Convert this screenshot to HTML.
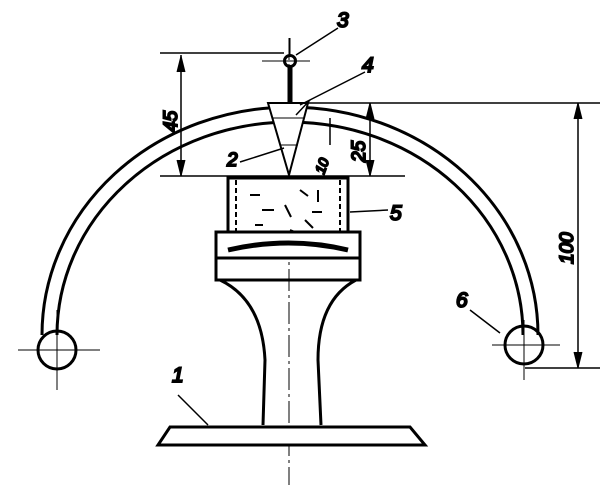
<!DOCTYPE html>
<html><head><style>body{margin:0;background:#fff}svg{display:block}text{font-family:"Liberation Sans",sans-serif;font-style:italic;fill:#000}</style></head>
<body><svg width="615" height="501" viewBox="0 0 615 501" stroke="#000" fill="none" stroke-width="2">
<path d="M42 335 A248 228 0 0 1 538 335" stroke-width="3"/>
<path d="M57 335 A233 213 0 0 1 523 335" stroke-width="3"/>
<circle cx="57" cy="350" r="19" stroke-width="3"/>
<circle cx="524" cy="345" r="19" stroke-width="3"/>
<path d="M18 350H100M57 310V390M492 345H560M524 320V380" stroke-width="1"/>
<path d="M289 38V485" stroke-width="1" stroke-dasharray="22 4 3 4"/>
<circle cx="290" cy="61" r="5.5" stroke-width="3"/>
<path d="M290 67V103" stroke-width="5"/>
<path d="M262 61H310M290 38V55" stroke-width="1"/>
<path d="M268 103H308L289 175Z" fill="#fff"/>
<path d="M273 118H304M280 145H298" stroke-width="1"/>
<path d="M160 53H284M160 176H405M300 103H600M525 368H600" stroke-width="1.5"/>
<path d="M181 55V176M370 103V176M578 103V368M330 118V145" stroke-width="1.5"/>
<path d="M177 72L181 56L185 72M177 160L181 176L185 160M366 119L370 103L374 119M366 160L370 176L374 160M574 119L578 103L582 119M574 352L578 368L582 352" fill="#000" stroke-width="1"/>
<rect x="228" y="178" width="120" height="80" fill="#fff" stroke-width="3"/>
<path d="M236 180V256M340 180V256" stroke-width="2" stroke-dasharray="5 3"/>
<path d="M250 195h10M262 210h12M285 205l6 12M300 190l8 6M312 212h10M255 225h8M290 230l10 4M270 240l12 -3M305 220l8 8M318 190v12" stroke-width="2"/>
<path d="M216 232H360V258H216Z" fill="#fff" stroke-width="3"/>
<path d="M228 250Q289 236 348 250" stroke-width="5"/>
<path d="M216 258V280H360V258" stroke-width="3"/>
<path d="M220 280Q262 300 265 360L263 425M356 280Q318 300 318 360L321 425" stroke-width="3"/>
<path d="M170 427H410L425 445H158Z" fill="#fff" stroke-width="3"/>
<path d="M296 55L338 28M300 105L365 72M240 162L284 148M350 212L388 210M500 333L470 310M208 425L178 395M310 100L296 115" stroke-width="1.5"/>
<text x="337" y="27" font-size="21">3</text>
<text x="362" y="72" font-size="21">4</text>
<text x="227" y="166" font-size="19">2</text>
<text x="390" y="220" font-size="21">5</text>
<text x="456" y="307" font-size="21">6</text>
<text x="172" y="382" font-size="21">1</text>
<text x="312" y="172" font-size="14" transform="rotate(-70 320 165)">10</text>
<text font-size="19" transform="translate(177 132) rotate(-90)">45</text>
<text font-size="19" transform="translate(365 162) rotate(-90)">25</text>
<text font-size="19" transform="translate(573 264) rotate(-90)">100</text>
</svg></body></html>
